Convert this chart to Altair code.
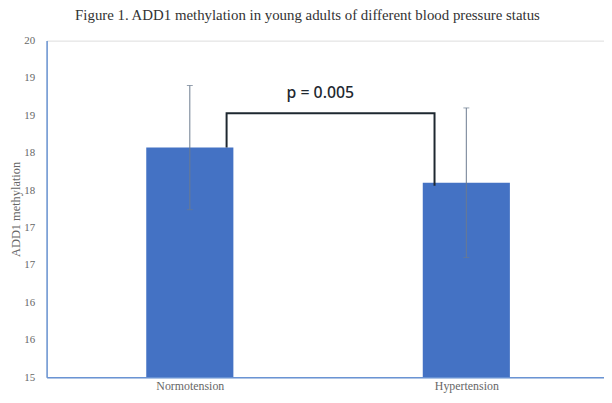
import altair as alt
import pandas as pd

categories = ["Normotension", "Hypertension"]
positions = [0, 1]
means = [18.07, 17.60]
errors = [0.83, 1.00]

bracket_x = [0.133, 0.133, 0.885, 0.885]
bracket_y = [18.07, 18.53, 18.53, 17.56]
bracket_order = [0, 1, 2, 3]

p_text = "p = 0.005"
p_x = 0.472
p_y = 18.80

y_ticks = [15, 15.5, 16, 16.5, 17, 17.5, 18, 18.5, 19, 19.5]

df = pd.DataFrame({
    "cat": categories,
    "pos": positions,
    "mean": means,
    "lo": [m - e for m, e in zip(means, errors)],
    "hi": [m + e for m, e in zip(means, errors)],
})
br = pd.DataFrame({"x": bracket_x, "y": bracket_y, "o": bracket_order})
pt = pd.DataFrame({"x": [p_x], "y": [p_y], "t": [p_text]})

serif = "Liberation Serif"
axis_color = "#6a94d4"
label_color = "#666666"

label_expr = " : ".join(
    [f"datum.value == {p} ? '{c}'" for p, c in zip(positions, categories)]
) + " : ''"

xscale = alt.Scale(domain=[-0.5, 1.48], nice=False, zero=False)
yscale = alt.Scale(domain=[15, 19.5], nice=False, zero=False)

x_axis = alt.Axis(
    values=positions, labelExpr=label_expr, title=None, ticks=False, grid=False,
    domainColor=axis_color, domainWidth=1.5, labelFont=serif, labelFontSize=12,
    labelColor=label_color, labelPadding=3, labelOverlap=False,
)
y_axis = alt.Axis(
    values=y_ticks, tickCount=30, labelExpr="toString(round(datum.value))",
    title="ADD1 methylation", ticks=False, grid=False,
    domainColor=axis_color, domainWidth=1.5, labelFont=serif, labelFontSize=11,
    labelColor=label_color, labelPadding=12, labelOverlap=False,
    titleFont=serif, titleFontSize=12.5,
    titleFontWeight="normal", titleColor=label_color, titlePadding=1,
)

bars = alt.Chart(df).mark_bar(color="#4472C4", size=88, clip=True).encode(
    x=alt.X("pos:Q", scale=xscale, axis=x_axis),
    y=alt.Y("mean:Q", scale=yscale, axis=y_axis),
    y2=alt.datum(15),
)

err = alt.Chart(df).mark_rule(color="#6b7a8f", strokeWidth=1).encode(
    x="pos:Q", y="lo:Q", y2="hi:Q"
)
cap_hi = alt.Chart(df).mark_tick(color="#6b7a8f", orient="horizontal", size=6, thickness=1).encode(
    x="pos:Q", y="hi:Q"
)
cap_lo = alt.Chart(df).mark_tick(color="#6b7a8f", orient="horizontal", size=6, thickness=1).encode(
    x="pos:Q", y="lo:Q"
)

bracket = alt.Chart(br).mark_line(color="#1e2830", strokeWidth=2).encode(
    x="x:Q", y="y:Q", order="o:Q"
)

ptext = alt.Chart(pt).mark_text(
    font="Noto Sans", fontSize=16, fontWeight=500, color="#1e2830"
).encode(x="x:Q", y="y:Q", text="t:N")

chart = alt.layer(bars, err, cap_hi, cap_lo, bracket, ptext).properties(
    width=563,
    height=340,
    title=alt.TitleParams(
        "Figure 1. ADD1 methylation in young adults of different blood pressure status",
        font=serif, fontSize=15, fontWeight="normal", color="#333333",
        anchor="middle", dx=-18, offset=12,
    ),
    autosize=alt.AutoSizeParams(type="none"),
    padding={"left": 39, "top": 31, "right": 0, "bottom": 15},
).configure_view(stroke=None).configure(background="white")

chart.save("out.html", embed_options={"renderer": "svg", "actions": False})
